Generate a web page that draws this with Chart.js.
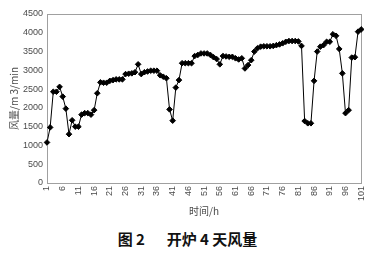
<!DOCTYPE html>
<html>
<head>
<meta charset="utf-8">
<script src="https://cdn.jsdelivr.net/npm/chart.js@4.4.1/dist/chart.umd.min.js"></script>
<style>
  html, body { margin: 0; padding: 0; background: #fff; }
  #wrap { position: relative; width: 375px; height: 222px; }
  #caption {
    position: absolute; left: 0; top: 228px; width: 375px; text-align: center;
    font-family: "Noto Sans CJK SC", sans-serif; font-weight: 700; font-size: 15px;
    color: #111; white-space: pre;
  }
</style>
</head>
<body>
<div id="wrap"><canvas id="chart"></canvas></div>
<div id="caption">图 2　  开炉 4 天风量</div>
<script>
// hours 1..101
const hours = [];
for (let h = 1; h <= 101; h++) hours.push(String(h));

// air volume, m3/min
const airVolume = [
  1080, 1480, 2430, 2430, 2560, 2300, 1980, 1300, 1670, 1500,
  1500, 1820, 1860, 1860, 1820, 1940, 2390, 2680, 2670, 2670,
  2720, 2740, 2760, 2760, 2760, 2900, 2910, 2920, 2950, 3160,
  2900, 2950, 2970, 2990, 2990, 2990, 2870, 2830, 2790, 1960,
  1660, 2540, 2740, 3190, 3190, 3190, 3190, 3380, 3410, 3450,
  3450, 3450, 3410, 3350, 3300, 3160, 3380, 3370, 3360, 3360,
  3320, 3290, 3320, 3050, 3140, 3270, 3500, 3590, 3630, 3640,
  3640, 3640, 3650, 3670, 3690, 3720, 3760, 3780, 3780, 3780,
  3770, 3650, 1650, 1590, 1590, 2720, 3500, 3630, 3670, 3760,
  3760, 3960, 3920, 3570, 2920, 1860, 1940, 3340, 3350, 4030,
  4090
];

const yTicks = [0, 500, 1000, 1500, 2000, 2500, 3000, 3500, 4000, 4500];

const grey = '#4a4a4a';

// gray frame round the plot area
const frame = {
  id: 'frame',
  beforeDatasetsDraw(chart) {
    const { ctx, chartArea: a } = chart;
    ctx.save();
    ctx.strokeStyle = '#a0a0a0';
    ctx.lineWidth = 1;
    ctx.strokeRect(Math.round(a.left) + 0.5, Math.round(a.top) + 0.5,
      Math.round(a.right - a.left), Math.round(a.bottom - a.top));
    ctx.restore();
  }
};

new Chart(document.getElementById('chart'), {
  type: 'line',
  data: {
    labels: hours,
    datasets: [{
      data: airVolume,
      borderColor: '#000',
      backgroundColor: '#000',
      borderWidth: 1,
      pointStyle: 'rectRot',
      pointRadius: 2.8,
      pointHoverRadius: 2.8,
      tension: 0
    }]
  },
  options: {
    responsive: true,
    maintainAspectRatio: false,
    animation: false,
    layout: { padding: { left: 6, right: 9, top: 14, bottom: 3 } },
    plugins: { legend: { display: false }, tooltip: { enabled: false } },
    scales: {
      x: {
        offset: false,
        grid: { display: false, drawTicks: false },
        border: { display: false },
        ticks: {
          autoSkip: false,
          maxRotation: 90,
          minRotation: 90,
          padding: 3,
          color: grey,
          font: { family: "'Liberation Sans', sans-serif", size: 9 },
          callback: (v, i) => (i % 5 === 0 ? hours[i] : '')
        },
        title: {
          display: true,
          text: '时间/h',
          color: grey,
          font: { family: "'Noto Sans CJK SC', sans-serif", size: 10 },
          padding: { top: 0, bottom: 2 }
        },
        afterFit: s => { s.height = 36; }
      },
      y: {
        min: 0,
        max: 4500,
        grid: { display: false, drawTicks: false },
        border: { display: false },
        afterBuildTicks: s => { s.ticks = yTicks.map(v => ({ value: v })); },
        ticks: {
          color: grey,
          font: { family: "'Liberation Sans', sans-serif", size: 9 },
          padding: 4,
          callback: v => String(v)
        },
        title: {
          display: true,
          text: '风量/m 3/min',
          color: grey,
          font: { family: "'Noto Sans CJK SC', sans-serif", size: 10 },
          padding: { top: 2, bottom: 0 }
        },
        afterFit: s => { s.width = 41; }
      }
    }
  },
  plugins: [frame]
});
</script>
</body>
</html>
